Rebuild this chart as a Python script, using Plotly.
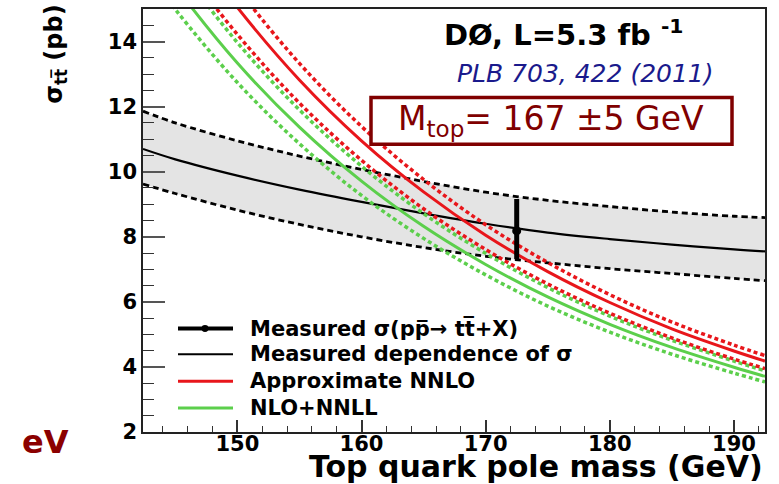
import plotly.graph_objects as go

# ---------------- data ----------------
mass = [142.4, 145, 150, 155, 160, 165, 170, 175, 180, 185, 190, 192.5]
meas_dep = [10.70, 10.38, 9.88, 9.45, 9.07, 8.72, 8.40, 8.13, 7.93, 7.76, 7.61, 7.55]
meas_dep_up = [11.86, 11.50, 10.95, 10.48, 10.07, 9.70, 9.37, 9.12, 8.93, 8.76, 8.63, 8.59]
meas_dep_dn = [9.62, 9.33, 8.82, 8.38, 8.00, 7.67, 7.40, 7.20, 7.02, 6.87, 6.72, 6.65]

nnlo = [19.20, 17.66, 15.05, 12.82, 10.95, 9.38, 8.05, 6.93, 5.98, 5.17, 4.49, 4.18]
nnlo_up = [19.97, 18.37, 15.65, 13.33, 11.39, 9.76, 8.37, 7.21, 6.22, 5.38, 4.67, 4.35]
nnlo_dn = [18.14, 16.69, 14.22, 12.11, 10.35, 8.86, 7.61, 6.55, 5.65, 4.89, 4.24, 3.95]

nnll = [17.10, 15.70, 13.34, 11.37, 9.71, 8.32, 7.15, 6.15, 5.31, 4.60, 3.99, 3.71]
nnll_up = [17.90, 16.44, 13.97, 11.90, 10.17, 8.71, 7.49, 6.44, 5.56, 4.82, 4.18, 3.88]
nnll_dn = [16.33, 14.99, 12.74, 10.86, 9.27, 7.95, 6.83, 5.87, 5.07, 4.39, 3.81, 3.54]

meas_mass = [172.5]
meas_xsec = [8.18]
meas_err_up = [0.98]
meas_err_dn = [0.87]

legend_labels = ["Measured \u03c3(pp\u0305\u2192 tt\u0305+X)", "Measured dependence of \u03c3",
                 "Approximate NNLO", "NLO+NNLL"]

# ---------------- styling ----------------
W, H = 779, 484
L, R, T, B = 143, 765, 7, 432
RED = "#e8161b"
GREEN = "#5ccf4c"
BLACK = "#000000"
DARKRED = "#800000"
NAVY = "#1a1a8c"
FONT = "DejaVu Sans"


def xp(px):
    return (px - L) / (R - L)


def yp(py):
    return (B - py) / (B - T)


fig = go.Figure()

# grey band
fig.add_trace(go.Scatter(x=mass, y=meas_dep_up, mode="lines", line=dict(width=0, shape="spline"),
                         showlegend=False, hoverinfo="skip"))
fig.add_trace(go.Scatter(x=mass, y=meas_dep_dn, mode="lines", line=dict(width=0, shape="spline"),
                         fill="tonexty", fillcolor="#e4e4e4", showlegend=False, hoverinfo="skip"))

# black dashed band edges and central line
for ys in (meas_dep_up, meas_dep_dn):
    fig.add_trace(go.Scatter(x=mass, y=ys, mode="lines",
                             line=dict(color=BLACK, width=2.8, dash="6px,4px", shape="spline"),
                             showlegend=False))
fig.add_trace(go.Scatter(x=mass, y=meas_dep, mode="lines",
                         line=dict(color=BLACK, width=2.2, shape="spline"), showlegend=False))

# NLO+NNLL (green)
for ys in (nnll_up, nnll_dn):
    fig.add_trace(go.Scatter(x=mass, y=ys, mode="lines",
                             line=dict(color=GREEN, width=3.5, dash="4px,3px", shape="spline"),
                             showlegend=False))
fig.add_trace(go.Scatter(x=mass, y=nnll, mode="lines",
                         line=dict(color=GREEN, width=3, shape="spline"), showlegend=False))

# Approximate NNLO (red)
for ys in (nnlo_up, nnlo_dn):
    fig.add_trace(go.Scatter(x=mass, y=ys, mode="lines",
                             line=dict(color=RED, width=3.5, dash="4px,3px", shape="spline"),
                             showlegend=False))
fig.add_trace(go.Scatter(x=mass, y=nnlo, mode="lines",
                         line=dict(color=RED, width=3, shape="spline"), showlegend=False))

# measured point
fig.add_trace(go.Scatter(x=meas_mass, y=meas_xsec, mode="markers",
                         marker=dict(color=BLACK, size=9),
                         error_y=dict(type="data", array=meas_err_up, arrayminus=meas_err_dn,
                                      color=BLACK, thickness=5, width=0),
                         showlegend=False))

# ---------------- legend (drawn) ----------------
shapes = []
annotations = []
rows = [328, 354, 381, 408]
styles = [(BLACK, 4), (BLACK, 2), (RED, 3), (GREEN, 3)]
for (col, w), ypix, lab in zip(styles, rows, legend_labels):
    shapes.append(dict(type="line", xref="paper", yref="paper", x0=xp(178), x1=xp(233),
                       y0=yp(ypix), y1=yp(ypix), line=dict(color=col, width=w)))
    annotations.append(dict(xref="paper", yref="paper", x=xp(248), y=yp(ypix), text="<b>%s</b>" % lab,
                            xanchor="left", yanchor="middle", showarrow=False,
                            font=dict(family=FONT, size=21, color=BLACK)))
shapes.append(dict(type="circle", xref="paper", yref="paper", x0=xp(201.5), x1=xp(208.5),
                   y0=yp(331.5), y1=yp(324.5), fillcolor=BLACK, line=dict(color=BLACK, width=0)))

# M_top box
shapes.append(dict(type="rect", xref="paper", yref="paper", x0=xp(371), x1=xp(732),
                   y0=yp(143), y1=yp(96), fillcolor="white", line=dict(color=DARKRED, width=3.5),
                   layer="above"))
annotations.append(dict(xref="paper", yref="paper", x=xp(551), y=yp(119),
                        text="M<sub>top</sub>= 167 \u00b15 GeV", showarrow=False,
                        xanchor="center", yanchor="middle",
                        font=dict(family=FONT, size=33, color=DARKRED)))

# header texts
annotations.append(dict(xref="paper", yref="paper", x=xp(563), y=yp(31),
                        text="<b>D\u00d8, L=5.3 fb <sup>-1</sup></b>", showarrow=False,
                        xanchor="center", yanchor="middle",
                        font=dict(family=FONT, size=29, color=BLACK)))
annotations.append(dict(xref="paper", yref="paper", x=xp(585), y=yp(72),
                        text="<i>PLB 703, 422 (2011)</i>", showarrow=False,
                        xanchor="center", yanchor="middle",
                        font=dict(family=FONT, size=25, color=NAVY)))

# axis titles
annotations.append(dict(xref="paper", yref="paper", x=xp(765), y=yp(467),
                        text="<b>Top quark pole mass (GeV)</b>", showarrow=False,
                        xanchor="right", yanchor="middle",
                        font=dict(family=FONT, size=30, color=BLACK)))
annotations.append(dict(xref="paper", yref="paper", x=xp(56), y=yp(53),
                        text="<b>\u03c3<sub>tt\u0305</sub> (pb)</b>", showarrow=False, textangle=-90,
                        xanchor="center", yanchor="middle",
                        font=dict(family=FONT, size=24, color=BLACK)))
annotations.append(dict(xref="paper", yref="paper", x=xp(45), y=yp(442),
                        text="<b>eV</b>", showarrow=False,
                        xanchor="center", yanchor="middle",
                        font=dict(family=FONT, size=32, color="#8b0000")))

fig.update_layout(
    width=W, height=H,
    margin=dict(l=L, r=W - R, t=T, b=H - B),
    paper_bgcolor="white", plot_bgcolor="white",
    showlegend=False,
    shapes=shapes, annotations=annotations,
    xaxis=dict(range=[142.4, 192.5], tick0=150, dtick=10, ticks="inside", ticklen=12,
               tickwidth=1.5, tickcolor="#333", showline=True, linecolor="#222", linewidth=1.5,
               mirror=True, showgrid=False, zeroline=False, ticklabelstandoff=-8,
               tickfont=dict(family=FONT, size=21, color=BLACK, weight="bold"),
               minor=dict(dtick=2, tick0=150, ticks="inside", ticklen=6, tickcolor="#333",
                          tickwidth=1.2, showgrid=False)),
    yaxis=dict(range=[2, 15], tick0=2, dtick=2, ticks="inside", ticklen=22,
               tickwidth=1.5, tickcolor="#555", showline=True, linecolor="#222", linewidth=1.5,
               mirror=True, showgrid=False, zeroline=False,
               tickfont=dict(family=FONT, size=21, color=BLACK, weight="bold"),
               minor=dict(dtick=0.5, tick0=2, ticks="inside", ticklen=11, tickcolor="#333",
                          tickwidth=1.2, showgrid=False)),
)

fig.write_html("out.html")
